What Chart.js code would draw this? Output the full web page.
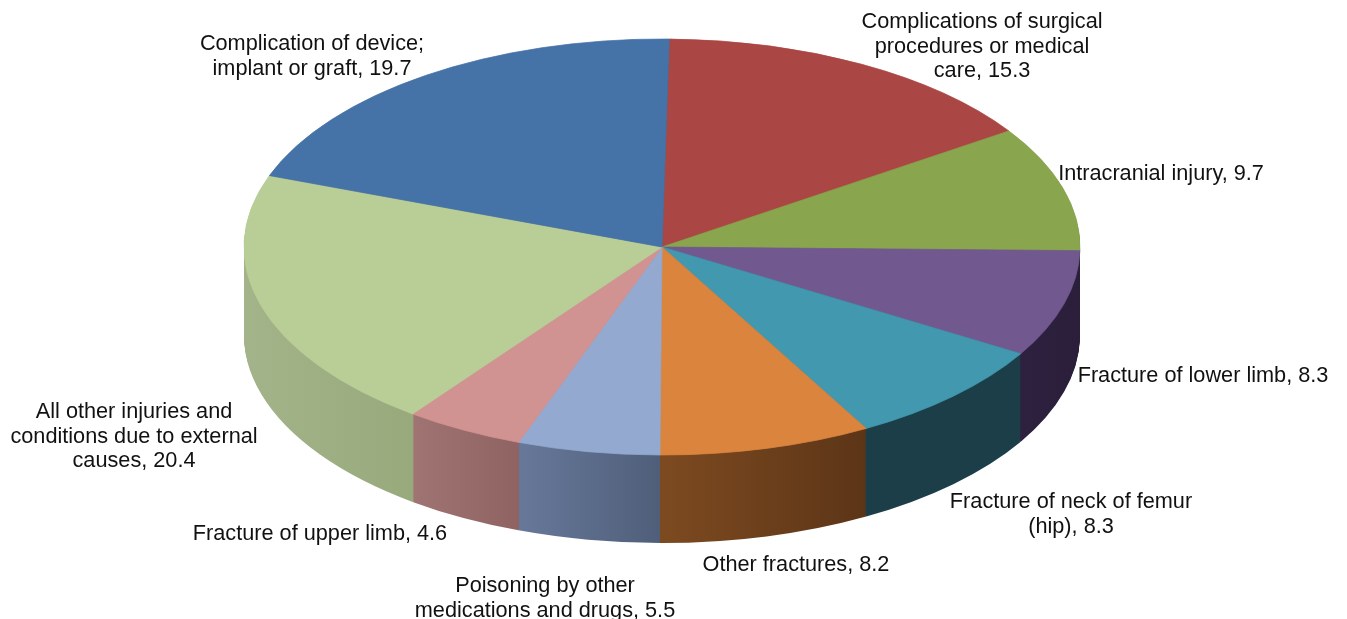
<!DOCTYPE html>
<html>
<head>
<meta charset="utf-8">
<style>
  html, body { margin: 0; background: #fff; }
  canvas { display: block; }
</style>
<script src="https://cdn.jsdelivr.net/npm/chart.js@4/dist/chart.umd.min.js"></script>
</head>
<body>
<canvas id="myChart" width="1347" height="619"></canvas>
<script>
var categories = [
  'Complications of surgical procedures or medical care',
  'Intracranial injury',
  'Fracture of lower limb',
  'Fracture of neck of femur (hip)',
  'Other fractures',
  'Poisoning by other medications and drugs',
  'Fracture of upper limb',
  'All other injuries and conditions due to external causes',
  'Complication of device; implant or graft'
];
var values = [15.3, 9.7, 8.3, 8.3, 8.2, 5.5, 4.6, 20.4, 19.7];

var topColors = ['#AA4643', '#89A54E', '#71588F', '#4198AF', '#DB843D', '#93A9CF', '#D19392', '#B9CD96', '#4572A7'];
var sideLeft = ['#6b2c2a', '#55662f', '#2e2140', '#1c3e49', '#7d4a20', '#67789a', '#a07472', '#a3b48a', '#2b4768'];
var sideRight = ['#6b2c2a', '#55662f', '#2a1e3a', '#1c3e49', '#5c3517', '#4f5f7a', '#8f6361', '#98a97c', '#2b4768'];

// wrapped text of each label, same order as values
var labelLines = [
  ['Complications of surgical', 'procedures or medical', 'care, 15.3'],
  ['Intracranial injury, 9.7'],
  ['Fracture of lower limb, 8.3'],
  ['Fracture of neck of femur', '(hip), 8.3'],
  ['Other fractures, 8.2'],
  ['Poisoning by other', 'medications and drugs, 5.5'],
  ['Fracture of upper limb, 4.6'],
  ['All other injuries and', 'conditions due to external', 'causes, 20.4'],
  ['Complication of device;', 'implant or graft, 19.7']
];
var labelX = [982, 1161, 1203, 1071, 796, 545, 320, 134, 312];
var labelY = [28, 180, 382, 508, 571, 592, 540, 418, 50];

var rx = 418, ry = 208, depth = 88;

const pie3d = {
  id: 'pie3d',
  beforeDatasetDraw(chart, args) {
    const ctx = chart.ctx;
    const arcs = chart.getDatasetMeta(args.index).data;
    const cx = arcs[0].x, cy = arcs[0].y;
    const squash = (offset) => {
      ctx.translate(cx, cy + offset);
      ctx.scale(1, ry / rx);
      ctx.translate(-cx, -cy);
    };

    // side wall: the same arcs stacked downwards in a darker colour
    const walls = arcs.map((arc, i) => {
      const a = arc.startAngle, b = arc.endAngle;
      const xs = [Math.cos(a), Math.cos(b)];
      if (a < Math.PI && b > Math.PI) xs.push(-1);
      const grad = ctx.createLinearGradient(cx + rx * Math.min(...xs), 0, cx + rx * Math.max(...xs), 0);
      grad.addColorStop(0, sideLeft[i]);
      grad.addColorStop(1, sideRight[i]);
      return Object.create(arc, {
        options: { value: Object.assign({}, arc.options, { backgroundColor: grad, borderColor: grad, borderWidth: 0 }) }
      });
    });
    for (let d = depth; d > 0; d--) {
      ctx.save();
      squash(d);
      walls.forEach((w) => w.draw(ctx));
      ctx.restore();
    }

    // top face is drawn by the controller under this transform
    ctx.save();
    squash(0);
  },
  afterDatasetDraw(chart) {
    chart.ctx.restore();
  },
  afterDraw(chart) {
    const ctx = chart.ctx;
    ctx.save();
    ctx.font = '21.7px "Liberation Sans"';
    ctx.fillStyle = '#111';
    ctx.textAlign = 'center';
    ctx.textBaseline = 'alphabetic';
    labelLines.forEach((lines, i) => {
      lines.forEach((line, j) => {
        ctx.fillText(line, labelX[i], labelY[i] + j * 24.5);
      });
    });
    ctx.restore();
  }
};

const data = {
  labels: categories,
  datasets: [{
    data: values,
    backgroundColor: topColors,
    borderColor: topColors,
    borderWidth: 1,
    clip: false
  }]
};

const config = {
  type: 'pie',
  data: data,
  options: {
    responsive: false,
    animation: false,
    radius: rx,
    rotation: 1,
    layout: { padding: { right: 23, bottom: 125 } },
    plugins: { legend: { display: false }, tooltip: { enabled: false } }
  },
  plugins: [pie3d]
};

const myChart = new Chart(document.getElementById('myChart'), config);
</script>
</body>
</html>
